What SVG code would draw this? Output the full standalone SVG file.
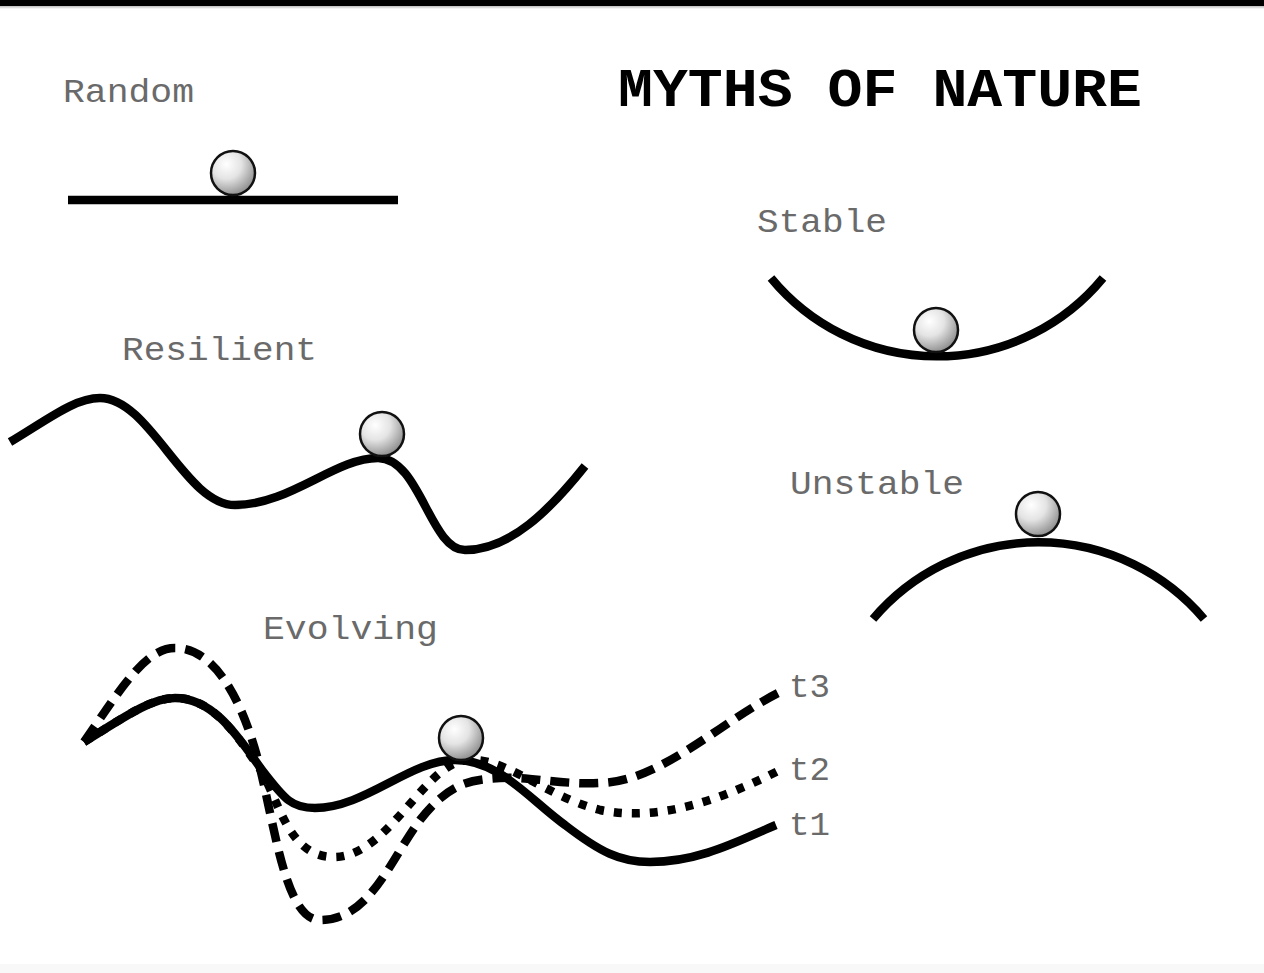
<svg xmlns="http://www.w3.org/2000/svg" width="1264" height="973" viewBox="0 0 1264 973">
  <defs>
    <radialGradient id="ballGrad" cx="0.35" cy="0.3" r="0.75">
      <stop offset="0" stop-color="#ffffff"/>
      <stop offset="0.45" stop-color="#e4e4e4"/>
      <stop offset="1" stop-color="#8a8a8a"/>
    </radialGradient>
    <linearGradient id="topShade" x1="0" y1="0" x2="0" y2="1">
      <stop offset="0" stop-color="#bbbbbb"/>
      <stop offset="1" stop-color="#ffffff"/>
    </linearGradient>
  </defs>
  <style>
    .bg { fill: #ffffff; }
    .ground { fill: none; stroke: #000; stroke-width: 8.5; stroke-linecap: butt; stroke-linejoin: round; }
    .t2 { stroke-dasharray: 8 10; }
    .t3 { stroke-dasharray: 19 10; }
    .ball { fill: url(#ballGrad); stroke: #111; stroke-width: 2.5; }
    .label { font-family: "Courier New", "Liberation Mono", monospace; font-size: 33px; fill: #6a6a6a; }
    .title { font-family: "Courier New", "Liberation Mono", monospace; font-size: 54px; font-weight: bold; fill: #000; }
  </style>
  <rect class="bg" x="0" y="0" width="1264" height="973"/>
  <rect x="0" y="0" width="1264" height="6" fill="#000"/>
  <rect x="0" y="6" width="1264" height="3" fill="url(#topShade)"/>
  <rect x="0" y="964" width="1264" height="9" fill="#f8f8f8"/>

  <g id="title">
    <text class="title" x="618" y="106" textLength="524" lengthAdjust="spacingAndGlyphs">MYTHS OF NATURE</text>
  </g>

  <g id="random">
    <text class="label" x="63" y="102" textLength="131" lengthAdjust="spacingAndGlyphs">Random</text>
    <line class="ground" x1="68" y1="200" x2="398" y2="200"/>
    <circle class="ball" cx="233" cy="173" r="22"/>
  </g>

  <g id="stable">
    <text class="label" x="757" y="232" textLength="130" lengthAdjust="spacingAndGlyphs">Stable</text>
    <path class="ground" d="M771,278 A215,215 0 0 0 1103,278"/>
    <circle class="ball" cx="936" cy="330" r="22"/>
  </g>

  <g id="resilient">
    <text class="label" x="122" y="360" textLength="195" lengthAdjust="spacingAndGlyphs">Resilient</text>
    <path class="ground" d="M10,442 C50,418 75,398 100,398 C150,398 185,505 235,505 C290,505 335,458 378,458 C420,458 430,550 465,550 C510,550 550,510 585,466"/>
    <circle class="ball" cx="382" cy="434" r="22"/>
  </g>

  <g id="unstable">
    <text class="label" x="790" y="494" textLength="174" lengthAdjust="spacingAndGlyphs">Unstable</text>
    <path class="ground" d="M873,619 A217,217 0 0 1 1204,619"/>
    <circle class="ball" cx="1038" cy="514" r="22"/>
  </g>

  <g id="evolving">
    <text class="label" x="263" y="639" textLength="175" lengthAdjust="spacingAndGlyphs">Evolving</text>
    <text class="label" x="789" y="697" textLength="41" lengthAdjust="spacingAndGlyphs">t3</text>
    <text class="label" x="789" y="780" textLength="41" lengthAdjust="spacingAndGlyphs">t2</text>
    <text class="label" x="789" y="835" textLength="41" lengthAdjust="spacingAndGlyphs">t1</text>
  </g>

  <g id="connectors">
    <path id="curve-t3" class="ground t3" d="M84,742 C120,690 145,648 175,648 C215,648 242,700 258,760 C275,825 285,920 320,920 C370,920 390,860 420,820 C450,782 470,780 500,778 C530,776 560,785 600,783 C660,782 720,722 780,692"/>
    <path id="curve-t2" class="ground t2" d="M84,742 C120,720 150,698 175,698 C215,698 240,740 262,772 C280,805 290,858 335,857 C385,856 420,775 458,762 C500,750 540,795 600,810 C660,822 720,800 780,770"/>
    <path id="curve-t1" class="ground" d="M84,742 C120,720 150,698 175,698 C215,698 240,740 262,770 C285,800 292,808 315,808 C365,808 410,760 455,760 C500,760 530,800 565,825 C600,852 620,862 650,862 C700,862 740,840 776,825"/>
    <circle class="ball" cx="461" cy="738" r="22"/>
  </g>
</svg>
